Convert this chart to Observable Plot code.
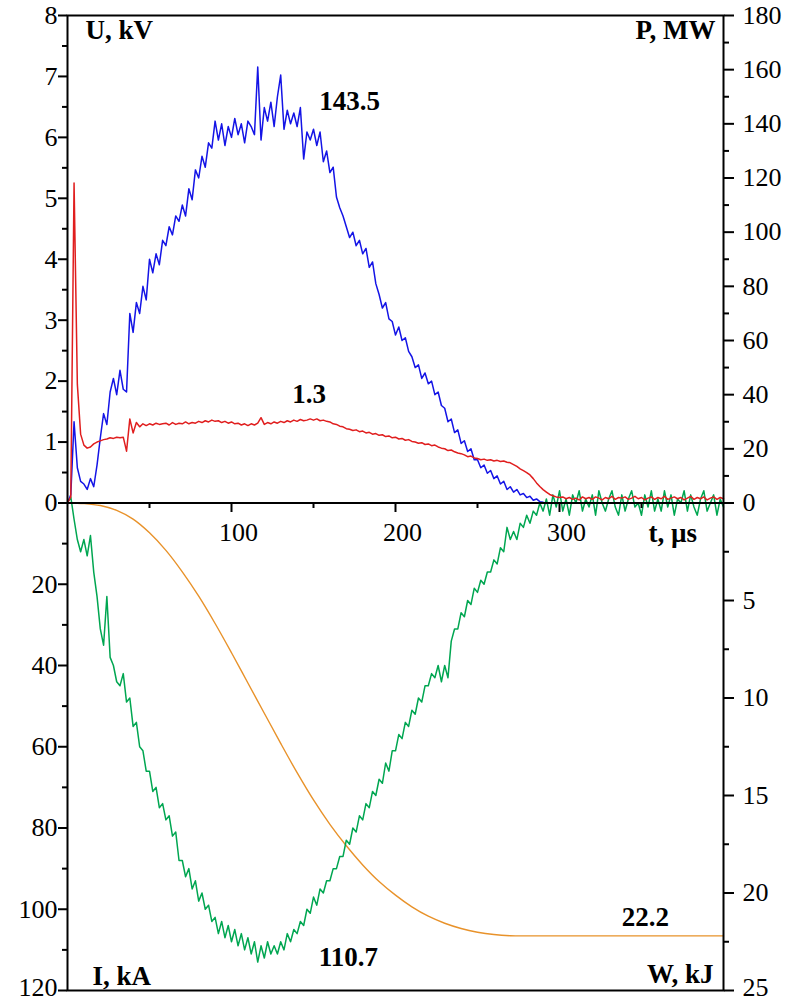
<!DOCTYPE html>
<html><head><meta charset="utf-8">
<script src="https://cdn.jsdelivr.net/npm/d3@7"></script>
<script src="https://cdn.jsdelivr.net/npm/@observablehq/plot@0.6"></script>
<style>body{margin:0;background:#fff;}</style>
</head><body><div id="chart"></div>
<script>
// sampling step of the traces, µs
const dt = 2;
// P, MW (t = 0..290 µs)
const powerMW = [0,3,30,13,8, 7,5,9,6,14, 24,33,29,41,46, 40,49,42,41,70,
 63,74,70,80,75, 90,85,92,88,97, 95,102,99,106,104, 110,106,116,112,123,
 120,128,124,133,131, 141,134,140,132,139, 135,142,136,140,133, 141,139,136,161,134,
 146,141,148,139,150, 158,138,145,140,144, 139,146,127,137,134, 138,132,137,126,130,
 122,124,113,109,106, 102,98,100,95,97, 92,94,87,89,81, 77,72,74,68,67,
 62,65,60,61,56, 54,50,51,46,48, 44,45,40,41,36, 35,30,31,26,27,
 22,23,19,20,16, 16,13,14,11,12, 9,10,7,8,5, 6,4,5,3,3.5, 2,2.5,1,1.5,0.5, 0.3];
// U, kV (t = 0..400 µs)
const voltageKV = [0,0.1,5.25,1.95,1.13, 0.95,0.9,0.92,0.97,1.0, 1.02,1.04,1.05,1.07,1.06, 1.08,1.07,1.08,0.85,1.38,
 1.15,1.32,1.25,1.3,1.27, 1.3,1.28,1.31,1.29,1.3, 1.31,1.28,1.32,1.29,1.31, 1.3,1.33,1.3,1.32,1.31,
 1.34,1.32,1.35,1.33,1.36, 1.34,1.35,1.32,1.34,1.31, 1.33,1.3,1.31,1.28,1.3, 1.27,1.3,1.28,1.31,1.4,
 1.29,1.32,1.3,1.33,1.31, 1.34,1.32,1.35,1.33,1.36, 1.34,1.37,1.35,1.36,1.38, 1.36,1.38,1.35,1.36,1.34,
 1.33,1.3,1.29,1.26,1.25, 1.22,1.21,1.19,1.2,1.17, 1.18,1.15,1.16,1.13,1.14, 1.11,1.12,1.09,1.1,1.07,
 1.08,1.05,1.06,1.03,1.04, 1.01,1.0,0.98,0.99,0.96, 0.97,0.94,0.95,0.92,0.9, 0.89,0.86,0.87,0.84,0.82,
 0.81,0.79,0.76,0.77,0.74, 0.73,0.71,0.72,0.7,0.71, 0.69,0.7,0.68,0.69,0.67, 0.66,0.63,0.6,0.56,0.53,
 0.5,0.46,0.4,0.33,0.27, 0.22,0.18,0.14,0.12,0.1, 0.09,0.1,0.07,0.09,0.06, 0.08,0.05,0.1,0.07,0.09,
 0.06,0.1,0.08,0.05,0.09, 0.07,0.11,0.06,0.09,0.08, 0.1,0.06,0.08,0.11,0.07, 0.09,0.05,0.08,0.1,0.06,
 0.09,0.07,0.11,0.06,0.08, 0.1,0.07,0.09,0.05,0.08, 0.11,0.06,0.09,0.07,0.1, 0.05,0.08,0.1,0.06,0.09, 0.07];
// I, kA (t = 0..400 µs)
const currentKA = [0,-1.5,4,9,12, 9,13,8,17,23, 31,35,23,38,40, 44,45,42,49,48,
 55,54,60,61,66, 66,71,70,75,74, 78,77,82,81,88, 88,92,90,95,93,
 98,96,100,99,103, 102,106,103,107,104, 108,105,109,106,110, 107,111,108,113,109,
 112,108,111,109,111, 108,110,106,108,105, 106,103,104,100,101, 97,99,95,96,93,
 93,90,90,87,87, 83,84,80,81,77, 78,74,75,71,72, 68,69,64,66,61,
 61,57,58,54,55, 51,52,48,49,45, 45,42,43,40,44, 40,43,34,31,31,
 27,28,24,25,21, 22,19,20,17,17, 14,15,11,12,6, 9,7,9,5,6,
 3,5,2,3,0, 2,-1,3,-2,1, -3,2,-1,3,-2, 0,-3,2,-1,1,
 -2,3,-3,0,2, -1,-3,1,3,-2, 2,-1,-3,1,0, 3,-2,1,-3,2,
 -1,2,-3,1,-2, 3,-1,0,-3,2, -2,1,3,-1,-3, 2,0,-2,3,-1, 1];
// W, kJ, sampled every 10 µs
const energyT = [0,10,20,30,40,50,60,70,80,90,100,110,120,130,140,150,160,170,180,190,200,
 210,220,230,240,250,260,270,280,290,300,310,320,330,340,350,360,370,380,390,400];
const energyKJ = [0,0.03,0.13,0.38,0.83,1.53,2.43,3.53,4.78,6.18,7.68,9.23,10.78,12.33,13.83,15.23,16.48,17.58,18.56,19.41,20.11,
 20.71,21.19,21.55,21.82,22.01,22.13,22.19,22.2,22.2,22.2,22.2,22.2,22.2,22.2,22.2,22.2,22.2,22.2,22.2,22.2];

// tick values
const uTicks = [0,1,2,3,4,5,6,7,8];
const uMinor = [0.5,1.5,2.5,3.5,4.5,5.5,6.5,7.5];
const iTicks = [20,40,60,80,100,120];
const iMinor = [10,30,50,70,90,110];
const pTicks = [0,20,40,60,80,100,120,140,160,180];
const pMinor = [10,30,50,70,90,110,130,150,170];
const wTicks = [5,10,15,20,25];
const wMinor = [2.5,7.5,12.5,17.5,22.5];
const tTicks = [100,200,300];
const tMinor = [50,150,250,350];

// annotations
const peakLabels = [
  {text: "143.5", t: 172, v: 6.59},
  {text: "1.3", t: 147.3, v: 1.78},
  {text: "110.7", t: 171.3, v: -7.46},
  {text: "22.2", t: 352.4, v: -6.80}
];
const axisNames = [
  {text: "U, kV", t: 11, v: 7.75, a: "start"},
  {text: "P, MW", t: 395.1, v: 7.75, a: "end"},
  {text: "I, kA", t: 15.2, v: -7.77, a: "start"},
  {text: "W, kJ", t: 393.9, v: -7.74, a: "end"},
  {text: "t, \u00b5s", t: 354.3, v: -0.5, a: "start"}
];

// map every quantity onto one shared vertical axis (U in kV units; bottom half negative)
const fromU = v => v;
const fromP = v => v / 22.5;
const fromI = v => -v / 15;
const fromW = v => -v * 8 / 25;

const power = powerMW.map((v, k) => ({t: k * dt, y: fromP(v)}));
const voltage = voltageKV.map((v, k) => ({t: k * dt, y: fromU(v)}));
const current = currentKA.map((v, k) => ({t: k * dt, y: fromI(v)}));
const energy = energyKJ.map((v, k) => ({t: energyT[k], y: fromW(v)}));

const leftMajor = new Map([...uTicks.map(v => [fromU(v), String(v)]), ...iTicks.map(v => [fromI(v), String(v)])]);
const leftMinor = [...uMinor.map(fromU), ...iMinor.map(fromI)];
const rightMajor = new Map([...pTicks.map(v => [fromP(v), String(v)]), ...wTicks.map(v => [fromW(v), String(v)])]);
const rightMinor = [...pMinor.map(fromP), ...wMinor.map(fromW)];
const bottomEdge = fromI(120);
const leftLabelsMain = [...leftMajor.keys()].filter(d => d !== bottomEdge);
const rightLabelsMain = [...rightMajor.keys()].filter(d => d !== bottomEdge);

const FONT = "'Liberation Serif', 'Times New Roman', serif";
const zeroShift = -488; // x axis drawn on the zero line

const chart = Plot.plot({
  width: 787, height: 1002,
  marginLeft: 67, marginRight: 64, marginTop: 15, marginBottom: 12,
  x: {domain: [0, 400], label: null},
  y: {domain: [-8, 8], label: null},
  style: {fontFamily: FONT, fontSize: "26px", color: "#000", background: "#fff", overflow: "visible"},
  marks: [
    Plot.line(energy, {x: "t", y: "y", stroke: "#e8922a", strokeWidth: 1.4, curve: "catmull-rom"}),
    Plot.line(current, {x: "t", y: "y", stroke: "#00a651", strokeWidth: 1.5}),
    Plot.line(power, {x: "t", y: "y", stroke: "#1414e6", strokeWidth: 1.5}),
    Plot.line(voltage, {x: "t", y: "y", stroke: "#e01e1e", strokeWidth: 1.5}),
    Plot.ruleY([0], {stroke: "#000", strokeWidth: 2}),
    Plot.frame({stroke: "#000", strokeWidth: 2}),
    // left axis
    Plot.axisY([...leftMajor.keys()], {anchor: "left", tickSize: 9, strokeWidth: 2, tickFormat: () => "", label: null}),
    Plot.axisY(leftMinor, {anchor: "left", tickSize: 5, strokeWidth: 2, tickFormat: () => "", label: null}),
    Plot.axisY(leftLabelsMain, {anchor: "left", tickSize: 0, tickPadding: 10, tickFormat: d => leftMajor.get(d), fontSize: 26, label: null}),
    Plot.axisY([bottomEdge], {anchor: "left", tickSize: 0, tickPadding: 10, dy: -3, tickFormat: d => leftMajor.get(d), fontSize: 26, label: null}),
    // right axis
    Plot.axisY([...rightMajor.keys()], {anchor: "right", tickSize: 10, strokeWidth: 2, tickFormat: () => "", label: null}),
    Plot.axisY(rightMinor, {anchor: "right", tickSize: 5, strokeWidth: 2, tickFormat: () => "", label: null}),
    Plot.axisY(rightLabelsMain, {anchor: "right", tickSize: 0, tickPadding: 19, tickFormat: d => rightMajor.get(d), fontSize: 26, label: null}),
    Plot.axisY([bottomEdge], {anchor: "right", tickSize: 0, tickPadding: 19, dy: -3, tickFormat: d => rightMajor.get(d), fontSize: 26, label: null}),
    // time axis on the zero line
    Plot.axisX(tTicks, {anchor: "bottom", dy: zeroShift, tickSize: 10, strokeWidth: 2, tickFormat: () => "", label: null}),
    Plot.axisX(tMinor, {anchor: "bottom", dy: zeroShift, tickSize: 6, strokeWidth: 2, tickFormat: () => "", label: null}),
    Plot.axisX(tTicks, {anchor: "bottom", dy: zeroShift, dx: 7, tickSize: 0, tickPadding: 20, fontSize: 26, label: null}),
    Plot.text(peakLabels, {x: "t", y: "v", text: "text", textAnchor: "middle", fontSize: 27, fontWeight: "bold", fill: "#000"}),
    Plot.text(axisNames.filter(d => d.a === "start"), {x: "t", y: "v", text: "text", textAnchor: "start", fontSize: 27, fontWeight: "bold", fill: "#000"}),
    Plot.text(axisNames.filter(d => d.a === "end"), {x: "t", y: "v", text: "text", textAnchor: "end", fontSize: 27, fontWeight: "bold", fill: "#000"})
  ]
});
document.getElementById("chart").appendChild(chart);
</script>
</body></html>
